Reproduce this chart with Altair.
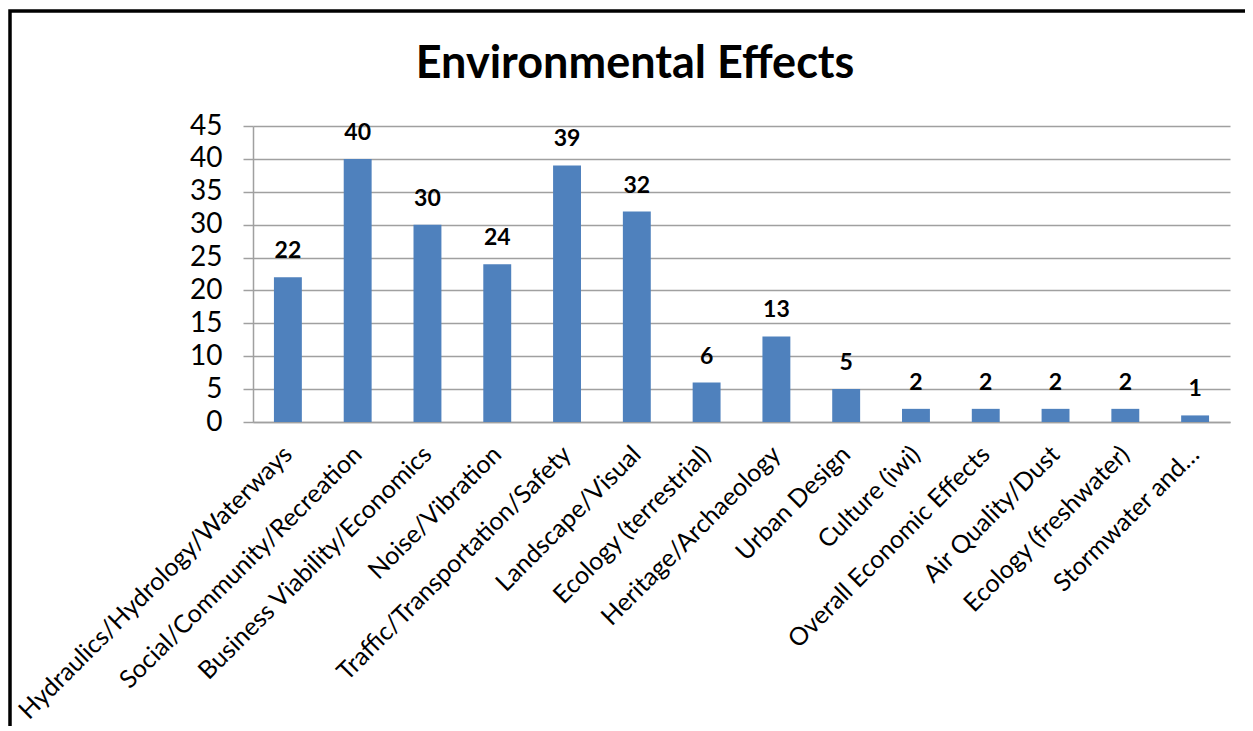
import altair as alt
import pandas as pd

categories = [
    "Hydraulics/Hydrology/Waterways",
    "Social/Community/Recreation",
    "Business Viability/Economics",
    "Noise/Vibration",
    "Traffic/Transportation/Safety",
    "Landscape/Visual",
    "Ecology (terrestrial)",
    "Heritage/Archaeology",
    "Urban Design",
    "Culture (iwi)",
    "Overall Economic Effects",
    "Air Quality/Dust",
    "Ecology (freshwater)",
    "Stormwater and\u2026",
]
values = [22, 40, 30, 24, 39, 32, 6, 13, 5, 2, 2, 2, 2, 1]
y_ticks = [0, 5, 10, 15, 20, 25, 30, 35, 40, 45]
title_text = "Environmental Effects"

df = pd.DataFrame({"cat": categories, "val": values})

W, H = 977, 296
FONT = "Lato"

x_enc = alt.X(
    "cat:N",
    sort=categories,
    title=None,
    scale=alt.Scale(paddingInner=0.6, paddingOuter=0.3),
    axis=alt.Axis(
        labelAngle=-45,
        labelAlign="right",
        labelBaseline="middle",
        labelFontSize=25,
        labelFont=FONT,
        labelColor="#000000",
        labelPadding=28,
        labelLimit=500,
        labelOverlap=False,
        ticks=False,
        domainColor="#a0a0a0",
        domainWidth=1.5,
        grid=False,
    ),
)
y_enc = alt.Y(
    "val:Q",
    title=None,
    scale=alt.Scale(domain=[0, 45], nice=False, zero=True),
    axis=alt.Axis(
        values=y_ticks,
        tickCount=10,
        labelOverlap=False,
        labelFontSize=28,
        labelFont=FONT,
        labelColor="#000000",
        labelPadding=21,
        ticks=True,
        tickSize=10,
        tickColor="#a0a0a0",
        tickWidth=1.5,
        domainColor="#a0a0a0",
        domainWidth=1.5,
        grid=True,
        gridColor="#a0a0a0",
        gridWidth=1.5,
    ),
)

base = alt.Chart(df)

bars = base.mark_bar(color="#4F81BD").encode(x=x_enc, y=y_enc)
labels = base.mark_text(
    font=FONT, fontSize=23, fontWeight="bold", color="#000000",
    baseline="alphabetic", dy=-19,
).encode(x=x_enc, y=y_enc, text="val:Q")

one = pd.DataFrame({"k": [0]})
title_mark = alt.Chart(one).mark_text(
    font=FONT, fontSize=45, fontWeight="bold", color="#000000",
    baseline="alphabetic", align="center",
).encode(x=alt.value(382), y=alt.value(-48), text=alt.value(title_text))

frame = alt.Chart(one).mark_rect(
    fill="transparent", fillOpacity=0, stroke="#000000", strokeWidth=3.5
).encode(
    x=alt.value(-243), x2=alt.value(W + 60),
    y=alt.value(-115), y2=alt.value(H + 360),
)

chart = alt.layer(bars, labels, title_mark, frame).properties(
    width=W,
    height=H,
    autosize=alt.AutoSizeParams(type="none"),
    padding={"left": 245, "top": 118, "right": 15, "bottom": 304},
).configure(background="white").configure_view(stroke=None)

chart.save("out.html", embed_options={"renderer": "svg", "actions": False})
